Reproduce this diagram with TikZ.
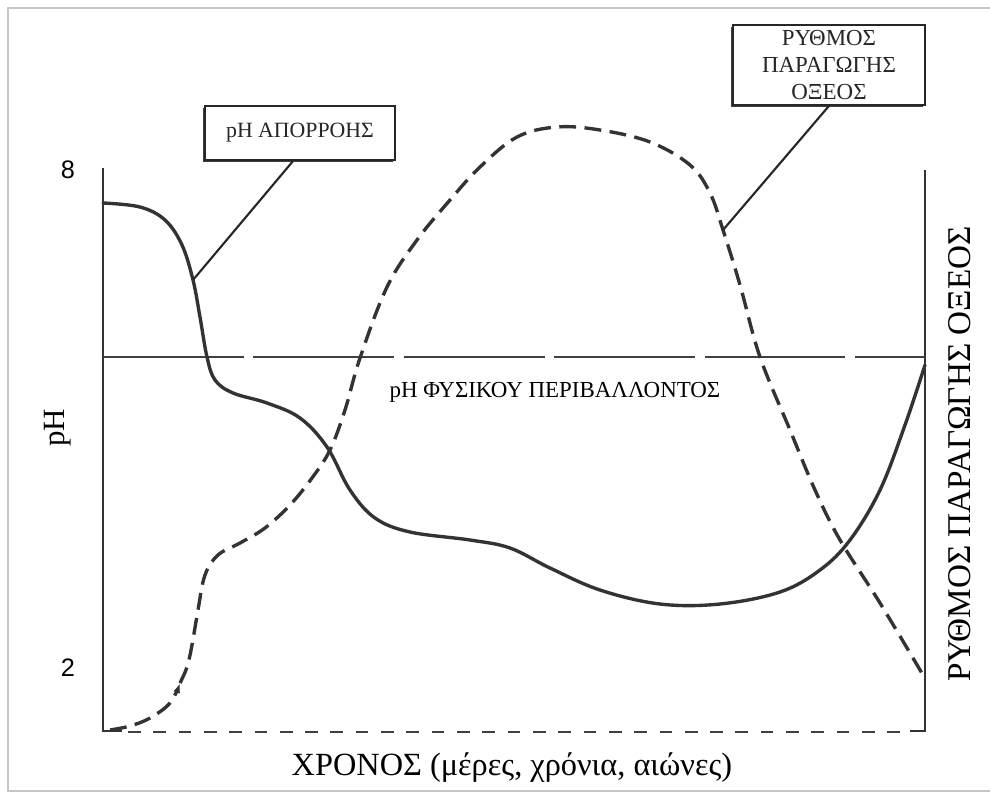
\documentclass[tikz,border=0pt]{standalone}
\usepackage{fontspec}
\setmainfont{Liberation Serif}
\newfontfamily\digitfont{Liberation Sans}
\usepackage{tikz}
\usetikzlibrary{arrows.meta,shadows}

\tikzset{
  axisline/.style={ line width=1.8pt, black!80 }
}
\tikzset{
  phcurve/.style={ line width=2.4pt, black!80, line cap=round }
}
\tikzset{
  acidcurve/.style={ line width=2.4pt, black!80, dash pattern=on 12pt off 6pt }
}
\tikzset{
  natline/.style={ line width=1.4pt, black!75, dash pattern=on 100pt off 7pt }
}
\tikzset{
  labelbox/.style={ draw, line width=1.5pt, black!85, fill=white, align=center,
    drop shadow={shadow xshift=-1.5pt, shadow yshift=-1.5pt, fill=black!75, opacity=1} }
}

\begin{document}
\begin{tikzpicture}[x=0.025cm, y=-0.025cm]
      \useasboundingbox (0, 0) rectangle (990, 796);
      \draw[gray!45, line width=1.2pt] (1000, 8) -- (8, 8) -- (8, 791) -- (1000, 791);
      % axes
      \draw[axisline] (103, 168) -- (103, 731) -- (122, 731);
      \draw[axisline] (925, 170) -- (925, 731) -- (910, 731);
      \draw[line width=1.6pt, black!75, dash pattern=on 9pt off 9pt] (128, 732) -- (904, 732);
      \draw[natline] (103, 357) -- (925, 357);
      % pH curve
      \draw[phcurve] plot[smooth, tension=0.6] coordinates {
        (103,203) (140,207) (165,220) (182,245) (193,280) (200,317) (207,357)
        (215,380) (233,393) (267,403) (300,418) (327,447) (350,490) (375,518)
        (410,532) (470,540) (510,548) (550,568) (600,590) (660,604) (720,604)
        (780,592) (820,570) (850,540) (880,490) (905,425) (925,365)};
      % acid production curve
      \draw[acidcurve, -{Latex[length=7pt, width=5pt]}] plot[smooth, tension=0.6] coordinates {
        (110,730) (130,726) (150,718) (170,703) (180,683)};
      \draw[acidcurve] plot[smooth, tension=0.6] coordinates {
        (180,683) (187,667) (192,645) (198,610) (205,575) (218,555) (240,543)
        (265,528) (290,505) (312,478) (330,450) (345,410) (360,358) (387,287)
        (417,240) (450,200) (480,167) (517,137) (557,127) (600,130) (650,142)
        (690,165) (710,193) (723,230) (740,285) (760,357) (790,430) (815,490)
        (840,540) (880,603) (923,675)};
      % labels
      \node[labelbox, minimum width=4.75cm, minimum height=1.35cm,
        font=\fontsize{15.5}{18}\selectfont] (phbox) at (300, 133) {pH ΑΠΟΡΡΟΗΣ};
      \node[labelbox, minimum width=4.8cm, minimum height=1.9cm,
        font=\fontsize{16.3}{19.5}\selectfont] (acidbox) at (829, 65) {ΡΥΘΜΟΣ\\ΠΑΡΑΓΩΓΗΣ\\ΟΞΕΟΣ};
      \coordinate (phpt) at (193, 280);
      \coordinate (acidpt) at (723, 230);
      \draw[line width=1.5pt, black!85] (phbox.south) ++(-7, 0) -- (phpt);
      \draw[line width=1.5pt, black!85] (acidbox.south) -- (acidpt);
      \node[font=\fontsize{16.3}{19}\selectfont] (natlabel) at (555, 392) {pH ΦΥΣΙΚΟΥ ΠΕΡΙΒΑΛΛΟΝΤΟΣ};
      \node[font=\digitfont\fontsize{18}{21}\selectfont] (eight) at (68, 170) {8};
      \node[font=\digitfont\fontsize{18}{21}\selectfont] (two) at (68, 668) {2};
      \node[rotate=90, font=\fontsize{22}{26}\selectfont] (ylabel) at (58, 428) {pH};
      \node[rotate=90, font=\fontsize{23.6}{28}\selectfont] (rlabel) at (960, 454) {ΡΥΘΜΟΣ ΠΑΡΑΓΩΓΗΣ ΟΞΕΟΣ};
      \node[font=\fontsize{23}{27}\selectfont] (xlabel) at (512, 768) {ΧΡΟΝΟΣ (μέρες, χρόνια, αιώνες)};
    \end{tikzpicture}
\end{document}
